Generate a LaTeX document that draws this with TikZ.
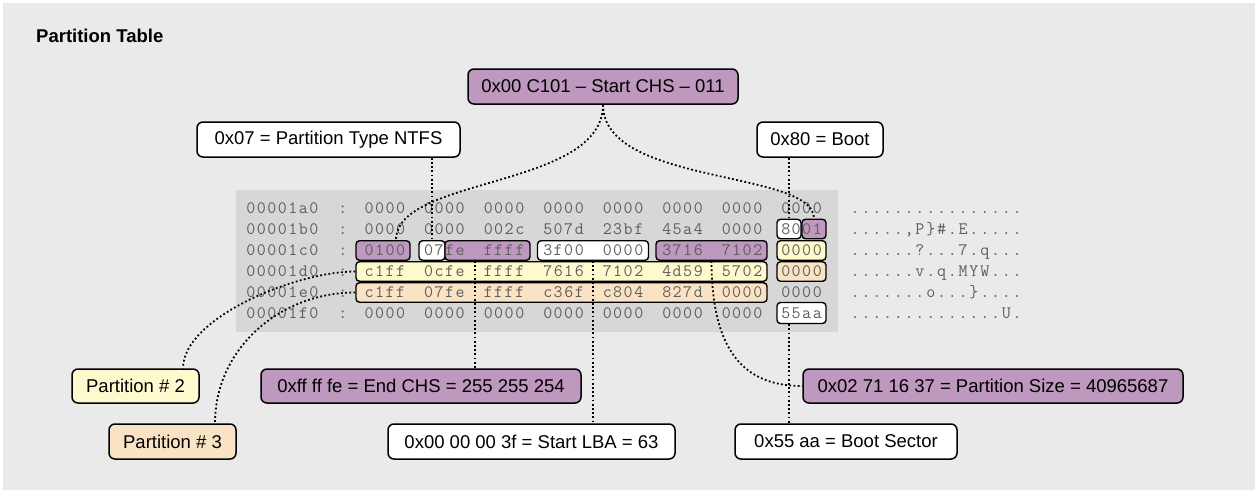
\documentclass[tikz,border=0pt]{standalone}
\usepackage{fontspec}
\setmainfont{Liberation Sans}
\usetikzlibrary{calc}

\definecolor{pagebg}{HTML}{EAEAEA}
\definecolor{dumpbg}{HTML}{D7D7D7}
\definecolor{hexgray}{HTML}{5E5E5E}
\definecolor{chs}{HTML}{BE98BE}
\definecolor{parttwo}{HTML}{FFFACD}
\definecolor{partthree}{HTML}{F9E3C4}

% set every character of a word in a fixed-width cell
\newcommand\spreadchars[1]{\spreadnext#1\relax}
\newcommand\spreadnext[1]{\ifx\relax#1\else\hbox to 10.5pt{\hss#1\hss}\expandafter\spreadnext\fi}
\newcommand\asciichars[1]{\asciinext#1\relax}
\newcommand\asciinext[1]{\ifx\relax#1\else\hbox to 10.8pt{\hss#1\hss}\expandafter\asciinext\fi}

\tikzset{
  infobox/.style={draw=black, line width=1.5pt, rounded corners=6pt,
    minimum height=35pt, inner sep=0pt, text=black,
    font=\fontsize{18.5}{20}\selectfont},
  hl/.style={draw=black, line width=1.4pt, rounded corners=3.5pt,
    minimum height=19.5pt, inner sep=0pt},
  hex/.style={anchor=base, inner sep=0pt, text=hexgray,
    font=\fontsize{17.5}{17.5}\selectfont\ttfamily},
  conn/.style={line width=1.8pt, dash pattern=on 1.8pt off 2.4pt}
}

% one line of the dump: name, row centre, address, eight words
\newcommand\hexrow[4]{%
  \node[hex] (#1-addr) at (282.5,#2+5) {\spreadchars{#3}};
  \node[hex] (#1-sep) at (343,#2+5) {:};
  \foreach \w [count=\k from 0] in {#4} {
    \node[hex] (#1-w\k) at (385+59.5*\k,#2+5) {\expandafter\spreadchars\expandafter{\w}};
  }
}

\begin{document}
\begin{tikzpicture}[x=1pt,y=-1pt]
\useasboundingbox (0,0) rectangle (1258,493);
\fill[white] (0,0) rectangle (1258,493);
\fill[pagebg] (3,3) rectangle (1255,490);
\fill[dumpbg] (236,190) rectangle (838,332);

\node[anchor=base west, inner sep=0pt, font=\bfseries\fontsize{18.5}{20}\selectfont] (title) at (36,42) {Partition Table};

% highlighted fields of the partition entries
\node[hl, fill=white, minimum width=24pt] (b80) at (789,229) {};
\node[hl, fill=chs, minimum width=24pt] (b01) at (814,229) {};
\node[hl, fill=chs, minimum width=54pt] (b0100) at (383,250.5) {};
\node[hl, fill=white, minimum width=26pt] (b07) at (432,250.5) {};
\node[hl, fill=chs, minimum width=85pt] (bfeff) at (487.5,250.5) {};
\node[hl, fill=white, minimum width=111pt] (b3f) at (593,250.5) {};
\node[hl, fill=chs, minimum width=111pt] (b3716) at (711.5,250.5) {};
\node[hl, fill=parttwo, minimum width=49pt] (bc8) at (801.5,250.5) {};
\node[hl, fill=parttwo, minimum width=411pt] (byel) at (561.5,271.5) {};
\node[hl, fill=partthree, minimum width=49pt] (bd8) at (801.5,271.5) {};
\node[hl, fill=partthree, minimum width=411pt] (bora) at (561.5,292.5) {};
\node[hl, fill=white, minimum width=49pt, minimum height=21pt] (b55aa) at (801.5,313) {};

% hex dump
\hexrow{r0}{208}{00001a0}{0000,0000,0000,0000,0000,0000,0000,0000}
\hexrow{r1}{229}{00001b0}{0000,0000,002c,507d,23bf,45a4,0000,8001}
\hexrow{r2}{250.5}{00001c0}{0100,07fe,ffff,3f00,0000,3716,7102,0000}
\hexrow{r3}{271.5}{00001d0}{c1ff,0cfe,ffff,7616,7102,4d59,5702,0000}
\hexrow{r4}{292.5}{00001e0}{c1ff,07fe,ffff,c36f,c804,827d,0000,0000}
\hexrow{r5}{313}{00001f0}{0000,0000,0000,0000,0000,0000,0000,55aa}

\node[hex, anchor=base west] (r0-ascii) at (849.6,213) {\asciichars{................}};
\node[hex, anchor=base west] (r1-ascii) at (849.6,234) {\asciichars{.....,P\}\#.E.....}};
\node[hex, anchor=base west] (r2-ascii) at (849.6,255.5) {\asciichars{......?...7.q...}};
\node[hex, anchor=base west] (r3-ascii) at (849.6,276.5) {\asciichars{......v.q.MYW...}};
\node[hex, anchor=base west] (r4-ascii) at (849.6,297.5) {\asciichars{.......o...\}....}};
\node[hex, anchor=base west] (r5-ascii) at (849.6,318) {\asciichars{..............U.}};

% callouts
\node[infobox, fill=chs, minimum width=270pt] (startchs) at (603,86.5) {0x00 C101 – Start CHS – 011};
\node[infobox, fill=white, minimum width=263pt] (ntfs) at (328.5,139.5) {0x07 = Partition Type NTFS};
\node[infobox, fill=white, minimum width=126pt] (boot) at (820,139.5) {0x80 = Boot};
\node[infobox, fill=parttwo, minimum width=127pt, minimum height=34pt] (p2) at (135.5,386) {Partition \# 2};
\node[infobox, fill=chs, minimum width=320pt, minimum height=34pt] (endchs) at (421,386) {0xff ff fe = End CHS = 255 255 254};
\node[infobox, fill=chs, minimum width=380pt, minimum height=34pt] (psize) at (993,386) {0x02 71 16 37 = Partition Size = 40965687};
\node[infobox, fill=partthree, minimum width=127pt] (p3) at (172.5,441.5) {Partition \# 3};
\node[infobox, fill=white, minimum width=287pt] (lba) at (531.5,441.5) {0x00 00 00 3f = Start LBA = 63};
\node[infobox, fill=white, minimum width=222pt] (bootsec) at (846,441.5) {0x55 aa = Boot Sector};

% connectors
\draw[conn] (startchs.south) .. controls +(0,84) and +(0,-64) .. ([xshift=13pt]b0100.north);
\draw[conn] (startchs.south) .. controls +(0,81) and +(0,-49) .. (b01.north);
\draw[conn] (b07.north |- ntfs.south) -- (b07.north);
\draw[conn] (b80.north |- boot.south) -- (b80.north);
\draw[conn] (byel.west) .. controls +(-60,0) and +(0,-50) .. ([xshift=47.5pt]p2.north);
\draw[conn] (bora.west) .. controls +(-76,0) and +(0,-74) .. ([xshift=42.5pt]p3.north);
\draw[conn] ([xshift=-12.5pt]bfeff.south) -- ([xshift=-12.5pt]bfeff.south |- endchs.north);
\draw[conn] (b3f.south) -- (b3f.south |- lba.north);
\draw[conn] (b3716.south) .. controls +(0,100) and +(-50,0) .. (psize.west);
\draw[conn] ([xshift=-12.5pt]b55aa.south) -- ([xshift=-12.5pt]b55aa.south |- bootsec.north);
\end{tikzpicture}
\end{document}
